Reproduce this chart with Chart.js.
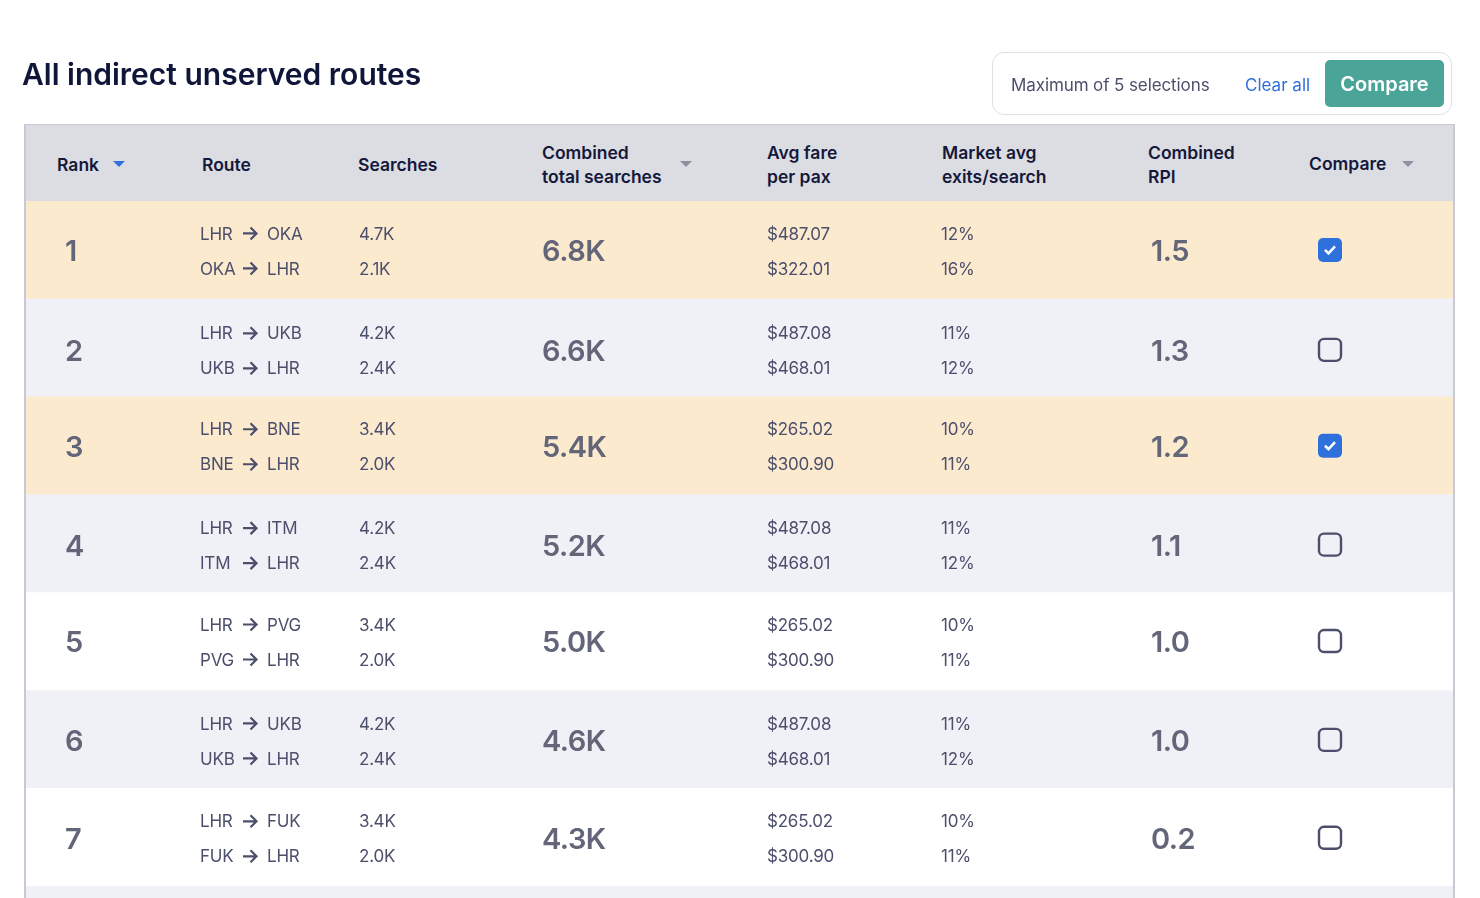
<!DOCTYPE html>
<html>
<head>
<meta charset="utf-8">
<title>All indirect unserved routes</title>
<script src="https://cdn.jsdelivr.net/npm/chart.js@4"></script>
<style>
  html, body { margin: 0; padding: 0; background: #fff; }
  body { width: 1480px; height: 898px; overflow: hidden; position: relative; font-family: Inter, sans-serif; }
  #chart { position: absolute; left: 0; top: 0; }
  .abs { position: absolute; white-space: nowrap; }
  #title { left: 22px; top: 55px; font-size: 30px; line-height: 38px; font-weight: 600; color: #10163a; }
  #panel { left: 992px; top: 52px; width: 458px; height: 61px; border: 1.5px solid #dfe0e6; border-radius: 12px; }
  #maxText { left: 1011px; top: 74px; font-size: 17px; line-height: 22px; letter-spacing: -0.1px; color: #4c4f6b; }
  #clearAll { left: 1245px; top: 74px; font-size: 17px; line-height: 22px; color: #2f71dc; }
  #compareBtn { left: 1325px; top: 60px; width: 119px; height: 47px; line-height: 49px; border-radius: 5px; background: #4aa598; color: #fff; font-size: 20px; font-weight: 600; text-align: center; }
  #tableHead { left: 24px; top: 124px; width: 1429px; height: 77px; background: #dcdde3; border-top: 1.5px solid #c8c9d4; box-sizing: border-box; }
  #edgeL, #edgeR { top: 124px; width: 1.5px; height: 774px; background: #c8c9d4; }
  #edgeL { left: 24px; } #edgeR { left: 1453px; }
  .th { font-size: 17.5px; line-height: 24px; font-weight: 600; color: #14183a; }
  .tri { width: 0; height: 0; border-left: 6px solid transparent; border-right: 6px solid transparent; border-top: 6px solid #8e8fa0; }
</style>
</head>
<body>
<canvas id="chart" width="1480" height="898"></canvas>
<div class="abs" id="title">All indirect unserved routes</div>
<div class="abs" id="panel"></div>
<div class="abs" id="maxText">Maximum of 5 selections</div>
<div class="abs" id="clearAll">Clear all</div>
<div class="abs" id="compareBtn">Compare</div>
<div class="abs" id="tableHead"></div>
<div class="abs" id="edgeL"></div>
<div class="abs" id="edgeR"></div>
<div class="abs th" style="left:57px;top:153px">Rank</div>
<div class="abs tri" style="left:113px;top:161px;border-top-color:#2f71dc"></div>
<div class="abs th" style="left:202px;top:153px">Route</div>
<div class="abs th" style="left:358px;top:153px">Searches</div>
<div class="abs th" style="left:542px;top:141px">Combined<br>total searches</div>
<div class="abs tri" style="left:680px;top:161px"></div>
<div class="abs th" style="left:767px;top:141px">Avg fare<br>per pax</div>
<div class="abs th" style="left:942px;top:141px">Market avg<br>exits/search</div>
<div class="abs th" style="left:1148px;top:141px">Combined<br>RPI</div>
<div class="abs th" style="left:1309px;top:152px">Compare</div>
<div class="abs tri" style="left:1402px;top:161px"></div>
<script>
// table values, one array per column
const ranks = [1, 2, 3, 4, 5, 6, 7];
const hub = "LHR";
const destinations = ["OKA", "UKB", "BNE", "ITM", "PVG", "UKB", "FUK"];
const searchesOut = ["4.7K", "4.2K", "3.4K", "4.2K", "3.4K", "4.2K", "3.4K"];
const searchesBack = ["2.1K", "2.4K", "2.0K", "2.4K", "2.0K", "2.4K", "2.0K"];
const totalSearches = ["6.8K", "6.6K", "5.4K", "5.2K", "5.0K", "4.6K", "4.3K"];
const fareOut = ["$487.07", "$487.08", "$265.02", "$487.08", "$265.02", "$487.08", "$265.02"];
const fareBack = ["$322.01", "$468.01", "$300.90", "$468.01", "$300.90", "$468.01", "$300.90"];
const exitsOut = ["12%", "11%", "10%", "11%", "10%", "11%", "10%"];
const exitsBack = ["16%", "12%", "11%", "12%", "11%", "12%", "11%"];
const combinedRpi = ["1.5", "1.3", "1.2", "1.1", "1.0", "1.0", "0.2"];
const selected = [true, false, true, false, false, false, false];
// the band below rank 7 is the next row, cut off by the page
const rowSlots = [1, 2, 3, 4, 5, 6, 7, 8];

const HIGHLIGHT = "#fceacf";
const STRIPE = "#f0f1f7";
const TEXT = "#4c4f6b";
const BIG_TEXT = "#636679";
const BLUE = "#2f71dc";

function rowColor(i) {
  if (selected[i]) return HIGHLIGHT;
  return i % 2 === 1 ? STRIPE : "#ffffff";
}

// column offsets from the left edge of the table
const col = { rank: 40, route: 175, arrow: 218, dest: 242, searches: 334, total: 517, fare: 742, exits: 916, rpi: 1126, box: 1293 };
// rows in the reference are not quite even, so the text sits a little off the band centre
const rowNudge = [2, 4, 2, 3, 1.5, 2.5, 2.5];

const cellsPlugin = {
  id: "cells",
  afterDatasetsDraw(chart) {
    const ctx = chart.ctx;
    const x = chart.scales.x;
    const y = chart.scales.y;
    ctx.save();
    ctx.textBaseline = "middle";
    ctx.textAlign = "left";

    ranks.forEach((rank, i) => {
      const mid = y.getPixelForValue(rank) + rowNudge[i];
      const top = mid - 17.5;
      const bottom = mid + 17.5;

      ctx.fillStyle = BIG_TEXT;
      ctx.font = "600 29px Inter";
      ctx.letterSpacing = "-0.5px";
      ctx.fillText(String(rank), x.getPixelForValue(col.rank), mid + 0.5);
      ctx.fillText(totalSearches[i], x.getPixelForValue(col.total), mid + 0.5);
      ctx.fillText(combinedRpi[i], x.getPixelForValue(col.rpi), mid + 0.5);

      ctx.fillStyle = TEXT;
      ctx.font = "400 17px Inter";
      ctx.letterSpacing = "-0.2px";
      ctx.fillText(hub, x.getPixelForValue(col.route), top);
      ctx.fillText(destinations[i], x.getPixelForValue(col.dest), top);
      ctx.fillText(destinations[i], x.getPixelForValue(col.route), bottom);
      ctx.fillText(hub, x.getPixelForValue(col.dest), bottom);
      ctx.fillText(searchesOut[i], x.getPixelForValue(col.searches), top);
      ctx.fillText(searchesBack[i], x.getPixelForValue(col.searches), bottom);
      ctx.fillText(fareOut[i], x.getPixelForValue(col.fare), top);
      ctx.fillText(fareBack[i], x.getPixelForValue(col.fare), bottom);
      ctx.fillText(exitsOut[i], x.getPixelForValue(col.exits), top);
      ctx.fillText(exitsBack[i], x.getPixelForValue(col.exits), bottom);

      drawArrow(ctx, x.getPixelForValue(col.arrow), top - 1);
      drawArrow(ctx, x.getPixelForValue(col.arrow), bottom - 1);
      drawBox(ctx, x.getPixelForValue(col.box), mid - 2, selected[i]);
    });
    ctx.restore();
  }
};

function drawArrow(ctx, left, mid) {
  ctx.save();
  ctx.strokeStyle = TEXT;
  ctx.lineWidth = 2.2;
  ctx.beginPath();
  ctx.moveTo(left, mid);
  ctx.lineTo(left + 13, mid);
  ctx.moveTo(left + 7.5, mid - 6);
  ctx.lineTo(left + 13.5, mid);
  ctx.lineTo(left + 7.5, mid + 6);
  ctx.stroke();
  ctx.restore();
}

function drawBox(ctx, left, mid, checked) {
  ctx.save();
  ctx.beginPath();
  if (checked) {
    ctx.roundRect(left, mid - 12, 24, 24, 5);
    ctx.fillStyle = BLUE;
    ctx.fill();
    ctx.strokeStyle = "#ffffff";
    ctx.lineWidth = 2.6;
    ctx.beginPath();
    ctx.moveTo(left + 7, mid);
    ctx.lineTo(left + 10.5, mid + 3.5);
    ctx.lineTo(left + 17, mid - 3.5);
    ctx.stroke();
  } else {
    ctx.roundRect(left + 1, mid - 11, 22, 22, 5);
    ctx.strokeStyle = TEXT;
    ctx.lineWidth = 2.4;
    ctx.stroke();
  }
  ctx.restore();
}

new Chart(document.getElementById("chart"), {
  type: "bar",
  data: {
    labels: rowSlots,
    datasets: [{
      data: rowSlots.map((slot) => ({ x: 1429, y: slot })),
      backgroundColor: rowSlots.map((slot, i) => rowColor(i)),
      borderWidth: 0,
      barPercentage: 1,
      categoryPercentage: 1
    }]
  },
  options: {
    indexAxis: "y",
    responsive: false,
    animation: false,
    events: [],
    layout: { padding: { left: 25, right: 26, top: 201, bottom: 0 } },
    plugins: { legend: { display: false }, tooltip: { enabled: false } },
    scales: {
      x: { type: "linear", display: false, min: 0, max: 1429 },
      y: {
        type: "linear",
        display: false,
        reverse: true,
        offset: false,
        min: 0.5,
        max: 7.62,
        // one tick per row keeps the bars a full row thick
        afterBuildTicks: (scale) => { scale.ticks = rowSlots.map((slot) => ({ value: slot })); }
      }
    }
  },
  plugins: [cellsPlugin]
});
</script>
</body>
</html>
